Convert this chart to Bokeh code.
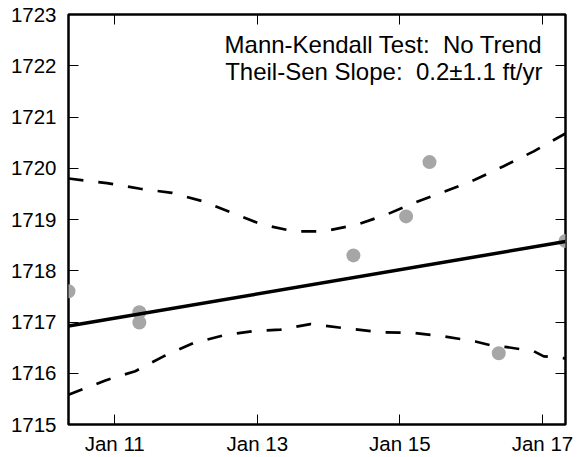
import pandas as pd
from bokeh.plotting import figure
from bokeh.models import (Range1d, FixedTicker, DatetimeTickFormatter, LinearAxis,
                          DatetimeAxis, CustomJSTickFormatter, Label)
from bokeh.embed import file_html
from bokeh.resources import INLINE

# ---- data ----
obs_dates = ["2010-05-09", "2011-05-07", "2011-05-07", "2014-05-08", "2015-02-02",
             "2015-06-02", "2016-05-22", "2017-04-29"]
obs_levels = [1717.60, 1717.19, 1716.99, 1718.30, 1719.06, 1720.12, 1716.39, 1718.58]

trend_dates = ["2010-05-09", "2017-04-29"]
trend_levels = [1716.92, 1718.57]

upper_dates = ["2010-05-09", "2010-11-22", "2011-05-12", "2011-10-21", "2012-03-23",
               "2012-08-24", "2013-01-26", "2013-07-06", "2013-12-07", "2014-05-27",
               "2014-10-27", "2015-03-13", "2015-08-22", "2016-01-23", "2016-06-16",
               "2016-11-17", "2017-04-29"]
upper_levels = [1719.80, 1719.71, 1719.60, 1719.52, 1719.36, 1719.13, 1718.90, 1718.77,
                1718.77, 1718.90, 1719.10, 1719.32, 1719.55, 1719.78, 1720.04, 1720.33,
                1720.68]

lower_dates = ["2010-05-09", "2010-11-14", "2011-04-16", "2011-09-08", "2012-02-09",
               "2012-07-12", "2012-12-05", "2013-04-29", "2013-09-30", "2014-04-14",
               "2014-09-23", "2015-03-05", "2015-08-14", "2016-01-23", "2016-04-26",
               "2016-07-04", "2016-11-17", "2017-01-08", "2017-04-29"]
lower_levels = [1715.58, 1715.86, 1716.04, 1716.33, 1716.59, 1716.74, 1716.82, 1716.85,
                1716.96, 1716.87, 1716.80, 1716.79, 1716.72, 1716.62, 1716.53, 1716.51,
                1716.43, 1716.33, 1716.29]

x_range_dates = ["2010-05-09", "2017-04-29"]
y_range_levels = [1715, 1723]
x_tick_dates = ["2011-01-01", "2013-01-01", "2015-01-01", "2017-01-01"]
y_ticks = [1715, 1716, 1717, 1718, 1719, 1720, 1721, 1722, 1723]

annotation_lines = ["Mann-Kendall Test:\u00a0 No Trend", "Theil-Sen Slope:\u00a0 0.2\u00b11.1 ft/yr"]
annotation_x_date = "2017-01-01"
annotation_y_levels = [1722.42, 1721.89]

FONT = "Liberation Sans"


def dt(values):
    return pd.to_datetime(values)


def ms(values):
    return [int(pd.Timestamp(v).value // 10**6) for v in values]


p = figure(width=575, height=457, x_axis_type="datetime",
           x_range=Range1d(*dt(x_range_dates)),
           y_range=Range1d(*y_range_levels),
           output_backend="svg", toolbar_location=None,
           min_border_left=68, min_border_right=10, min_border_top=14, min_border_bottom=33)

p.background_fill_color = "white"
p.border_fill_color = "white"
p.outline_line_color = "black"
p.outline_line_width = 2.5
p.xgrid.visible = False
p.ygrid.visible = False

x_ticker = FixedTicker(ticks=ms(x_tick_dates), minor_ticks=[])
y_ticker = FixedTicker(ticks=y_ticks, minor_ticks=[])
fmt = "%b %y"
x_formatter = DatetimeTickFormatter(years=fmt, months=fmt, days=fmt, hours=fmt,
                                    minutes=fmt, hourmin=fmt, seconds=fmt,
                                    minsec=fmt, milliseconds=fmt, microseconds=fmt)


def style_axis(ax, show_labels):
    ax.axis_line_color = None
    ax.major_tick_in = 10
    ax.major_tick_out = 0
    ax.major_tick_line_color = "black"
    ax.major_tick_line_width = 1
    ax.minor_tick_line_color = None
    ax.major_label_text_font = FONT
    ax.major_label_text_color = "black"
    if show_labels:
        ax.major_label_text_font_size = "20.5px"
    else:
        ax.formatter = CustomJSTickFormatter(code="return ''")
        ax.major_label_text_font_size = "1px"
        ax.major_label_standoff = 0


xa = p.xaxis[0]
xa.ticker = x_ticker
xa.formatter = x_formatter
style_axis(xa, True)
xa.major_label_standoff = 7

ya = p.yaxis[0]
ya.ticker = y_ticker
style_axis(ya, True)
ya.major_label_standoff = 12

top_axis = DatetimeAxis(ticker=x_ticker)
style_axis(top_axis, False)
p.add_layout(top_axis, "above")

right_axis = LinearAxis(ticker=y_ticker)
style_axis(right_axis, False)
p.add_layout(right_axis, "right")

# confidence band edges
p.line(dt(upper_dates), upper_levels, line_color="black", line_width=2.7, line_dash="15 15")
p.line(dt(lower_dates), lower_levels, line_color="black", line_width=2.7, line_dash="15 15")

# observations
p.scatter(dt(obs_dates), obs_levels, size=14, fill_color="#a6a6a6", line_color=None)

# Theil-Sen trend
p.line(dt(trend_dates), trend_levels, line_color="black", line_width=3.5)

for txt, yv in zip(annotation_lines, annotation_y_levels):
    p.add_layout(Label(x=pd.Timestamp(annotation_x_date), y=yv, text=txt,
                       text_font=FONT, text_font_size="24px", text_align="right",
                       text_baseline="alphabetic", text_color="black"))

open("out.html", "w").write(file_html(p, INLINE))
